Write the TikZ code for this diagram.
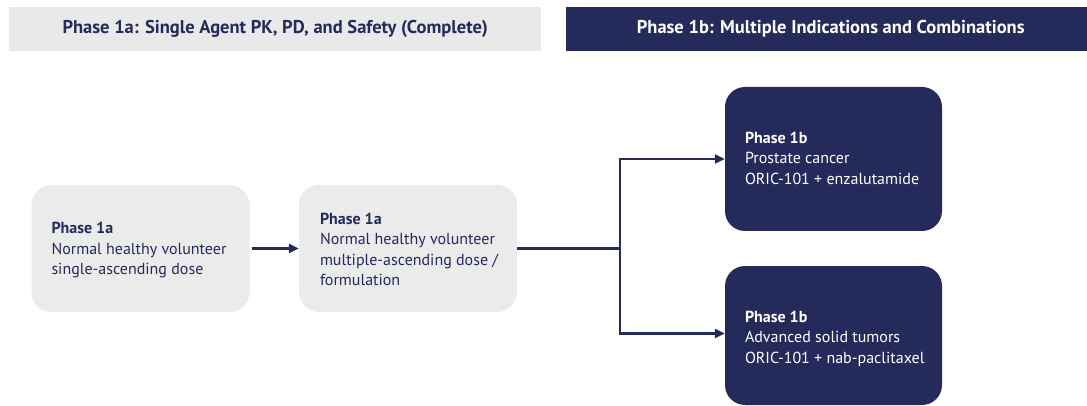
\documentclass[tikz,border=0pt]{standalone}
\usepackage{fontspec}
\setmainfont{PT Sans}
\usetikzlibrary{arrows.meta}
\definecolor{navy}{HTML}{242B5B}
\definecolor{lgray}{HTML}{EBEBEB}
\definecolor{hgray}{HTML}{E9E9E9}
\tikzset{
  x=1pt, y=-1pt,
  hdrbar/.style={inner sep=0pt, anchor=north west},
  lightbox/.style={fill=lgray, rounded corners=20pt, inner sep=0pt, minimum width=218pt, minimum height=127pt},
  darkbox/.style={fill=navy, rounded corners=20pt, inner sep=0pt, minimum width=217pt},
  txt/.style={anchor=west, inner sep=0pt, align=left, font=\fontsize{16}{20.5}\selectfont},
  hdrtxt/.style={inner sep=0pt, font=\fontsize{18.5}{22}\selectfont\bfseries},
  conn/.style={draw=navy, line width=2.2pt},
  arr/.style={conn, -{Triangle[length=10pt,width=9pt]}}
}
\begin{document}
\begin{tikzpicture}
\useasboundingbox (0,0) rectangle (1087,406);
% headers
\node[hdrbar, fill=hgray, minimum width=532pt, minimum height=44pt] (h1) at (9,7) {};
\node[hdrtxt, text=navy] (h1t) at (h1.center) {Phase 1a: Single Agent PK, PD, and Safety (Complete)};
\node[hdrbar, fill=navy, minimum width=521pt, minimum height=44pt] (h2) at (566,7) {};
\node[hdrtxt, text=white] (h2t) at ([xshift=4pt]h2.center) {Phase 1b: Multiple Indications and Combinations};
% boxes
\node[lightbox] (b1) at (140.5,248.5) {};
\node[lightbox] (b2) at (408,248.5) {};
\node[darkbox, minimum height=144pt] (b3) at (833.5,159) {};
\node[darkbox, minimum height=139pt] (b4) at (833.5,335.5) {};
% texts
\node[txt, text=navy] (t1) at ([xshift=20pt,yshift=-1.5pt]b1.west) {\textbf{Phase 1a}\\Normal healthy volunteer\\single-ascending dose};
\node[txt, text=navy] (t2) at ([xshift=21pt,yshift=-1pt]b2.west) {\textbf{Phase 1a}\\Normal healthy volunteer\\multiple-ascending dose /\\formulation};
\node[txt, text=white] (t3) at ([xshift=20pt,yshift=1pt]b3.west) {\textbf{Phase 1b}\\Prostate cancer\\ORIC-101 + enzalutamide};
\node[txt, text=white] (t4) at ([xshift=20pt,yshift=-3pt]b4.west) {\textbf{Phase 1b}\\Advanced solid tumors\\ORIC-101 + nab-paclitaxel};
% connectors
\draw[arr] ([xshift=2pt]b1.east) -- (b2.west);
\coordinate (split) at (620,248.5);
\draw[conn] (b2.east) -- (split);
\draw[arr] (split) |- (b3.west);
\draw[arr] (split) |- ([yshift=2pt]b4.west);
\end{tikzpicture}
\end{document}
